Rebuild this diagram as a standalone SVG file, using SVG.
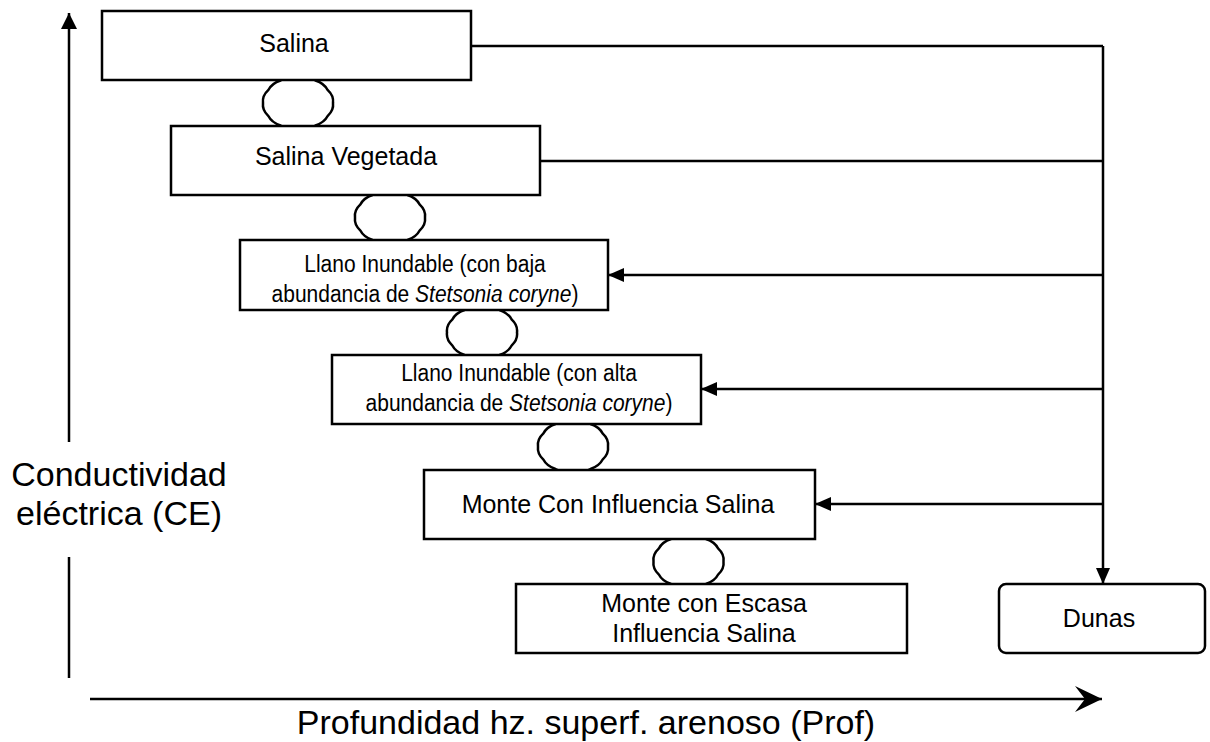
<svg xmlns="http://www.w3.org/2000/svg" width="1210" height="742" viewBox="0 0 1210 742">
  <style>
    .box { fill: #ffffff; stroke: #000000; stroke-width: 2.5; }
    .blob { fill: #ffffff; stroke: #000000; stroke-width: 2.5; stroke-linejoin: round; }
    .line { fill: none; stroke: #000000; stroke-width: 2.5; }
    .t { font-family: "Liberation Sans", Arial, sans-serif; font-size: 25px; fill: #000000; text-anchor: middle; }
    .ts { font-family: "Liberation Sans", Arial, sans-serif; font-size: 21px; fill: #000000; text-anchor: middle; }
    .ax { font-family: "Liberation Sans", Arial, sans-serif; font-size: 34px; fill: #000000; text-anchor: middle; }
  </style>
  <defs>
    <marker id="tri" viewBox="0 0 16 16" refX="16" refY="8" markerWidth="16" markerHeight="16" markerUnits="userSpaceOnUse" orient="auto">
      <path d="M0,1 L16,8 L0,15 Z" fill="#000000"/>
    </marker>
    <marker id="tri2" viewBox="0 0 16 16" refX="16" refY="8" markerWidth="16" markerHeight="16" markerUnits="userSpaceOnUse" orient="auto">
      <path d="M0,0 L16,8 L0,16 Z" fill="#000000"/>
    </marker>
    <marker id="barb" viewBox="0 0 28 26" refX="27" refY="13" markerWidth="28" markerHeight="26" markerUnits="userSpaceOnUse" orient="auto">
      <path d="M0,0 L27,13 L0,26 L10,13 Z" fill="#000000"/>
    </marker>
    <path id="wave" d="M35,0 Q35.9,7.2 29.8,12.8 Q26.3,19.6 17.5,22.5 Q9.6,26.8 0,26 Q-9.6,26.8 -17.5,22.5 Q-26.3,19.6 -29.8,12.8 Q-35.9,7.2 -35,0 Q-35.9,-7.2 -29.8,-12.8 Q-26.3,-19.6 -17.5,-22.5 Q-9.6,-26.8 0,-26 Q9.6,-26.8 17.5,-22.5 Q26.3,-19.6 29.8,-12.8 Q35.9,-7.2 35,0 Z"/>
  </defs>

  <rect width="1210" height="742" fill="#ffffff"/>

  <g id="axes">
    <path class="line" d="M69,442 V13" marker-end="url(#tri2)"/>
    <path class="line" d="M69,557 V678"/>
    <path class="line" d="M90,699 H1102" marker-end="url(#barb)"/>
    <text class="ax" x="119" y="486">Conductividad</text>
    <text class="ax" x="119" y="525">eléctrica (CE)</text>
    <text class="ax" x="586" y="734">Profundidad hz. superf. arenoso (Prof)</text>
  </g>

  <g id="transitions">
    <use href="#wave" class="blob" x="298" y="103"/>
    <use href="#wave" class="blob" x="390" y="217.5"/>
    <use href="#wave" class="blob" x="482" y="332.5"/>
    <use href="#wave" class="blob" x="573" y="446.5"/>
    <use href="#wave" class="blob" x="688.5" y="561.5"/>
  </g>

  <g id="connectors">
    <path class="line" d="M471,46 H1103"/>
    <path class="line" d="M540,161 H1103"/>
    <path class="line" d="M1103,46 V584" marker-end="url(#tri)"/>
    <path class="line" d="M1103,275 H608" marker-end="url(#tri)"/>
    <path class="line" d="M1103,389 H701" marker-end="url(#tri)"/>
    <path class="line" d="M1103,504 H815" marker-end="url(#tri)"/>
  </g>

  <g id="salina">
    <rect class="box" x="102" y="11" width="369" height="69"/>
    <text class="t" x="294" y="52">Salina</text>
  </g>
  <g id="salina-vegetada">
    <rect class="box" x="171" y="126" width="369" height="69"/>
    <text class="t" x="346" y="165">Salina Vegetada</text>
  </g>
  <g id="llano-baja">
    <rect class="box" x="240" y="240" width="368" height="70"/>
    <text class="ts" transform="translate(425,272) scale(1,1.1)">Llano Inundable (con baja</text>
    <text class="ts" transform="translate(425,302) scale(1,1.1)">abundancia de <tspan font-style="italic">Stetsonia coryne</tspan>)</text>
  </g>
  <g id="llano-alta">
    <rect class="box" x="332" y="355" width="369" height="69"/>
    <text class="ts" transform="translate(519,381) scale(1,1.1)">Llano Inundable (con alta</text>
    <text class="ts" transform="translate(519,411) scale(1,1.1)">abundancia de <tspan font-style="italic">Stetsonia coryne</tspan>)</text>
  </g>
  <g id="monte-influencia">
    <rect class="box" x="424" y="470" width="391" height="69"/>
    <text class="t" x="618" y="513">Monte Con Influencia Salina</text>
  </g>
  <g id="monte-escasa">
    <rect class="box" x="516" y="584" width="391" height="69"/>
    <text class="t" x="704" y="612">Monte con Escasa</text>
    <text class="t" x="704" y="642">Influencia Salina</text>
  </g>
  <g id="dunas">
    <rect class="box" x="999" y="584" width="206" height="69" rx="7" ry="7"/>
    <text class="t" x="1099" y="627">Dunas</text>
  </g>
</svg>
